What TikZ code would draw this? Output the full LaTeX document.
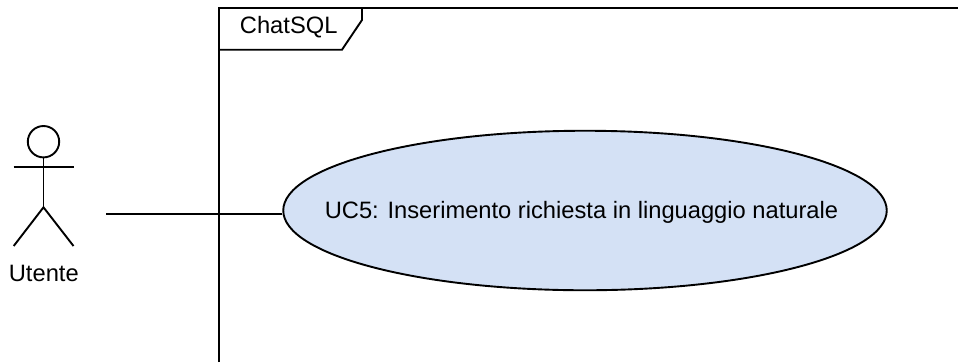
\documentclass[tikz,border=0pt]{standalone}
\usepackage{fontspec}
\setmainfont{Liberation Sans}
\usetikzlibrary{shapes.geometric}
\definecolor{ucfill}{HTML}{D4E1F5}
\tikzset{
  ln/.style={draw=black,line width=1.9bp},
  uc/.style={ellipse,ln,fill=ucfill,inner sep=0pt,minimum width=603.5bp,minimum height=159.5bp},
  txt/.style={font=\fontsize{23.7bp}{28bp}\selectfont,inner sep=0pt,text=black,anchor=base}
}
\begin{document}
\begin{tikzpicture}[x=1bp,y=-1bp]
\useasboundingbox (0,0) rectangle (958,362);
\coordinate (frameBL) at (218.7,362);
\coordinate (frameTL) at (218.7,7.7);
\coordinate (frameTR) at (958,7.7);
\draw[ln] (frameBL) -- (frameTL) -- (frameTR);
\coordinate (tabB) at (218.7,49.7);
\coordinate (tabC) at (342,49.7);
\coordinate (tabD) at (362,20);
\coordinate (tabE) at (362,7.7);
\draw[ln] (tabB) -- (tabC) -- (tabD) -- (tabE);
\node[txt] (title) at (288.7,33.3) {ChatSQL};
\node[uc] (uc5) at (585,210.5) {};
\node[txt] (uctext) at (581.5,218.5) {UC5: Inserimento richiesta in linguaggio naturale};
\coordinate (head) at (43.5,141.7);
\draw[ln] (head) circle (15.7);
\coordinate (neck) at (43.5,157.4);
\coordinate (hip) at (43.5,207.3);
\coordinate (armL) at (13.7,167);
\coordinate (armR) at (73.5,167);
\coordinate (footL) at (13.7,246);
\coordinate (footR) at (73.5,246);
\draw[ln] (neck) -- (hip);
\draw[ln] (armL) -- (armR);
\draw[ln] (footL) -- (hip) -- (footR);
\node[txt] (actor) at (43.8,281.5) {Utente};
\coordinate (actorEnd) at (106,214);
\draw[ln] (actorEnd) -- (actorEnd -| uc5.west);
\end{tikzpicture}
\end{document}
